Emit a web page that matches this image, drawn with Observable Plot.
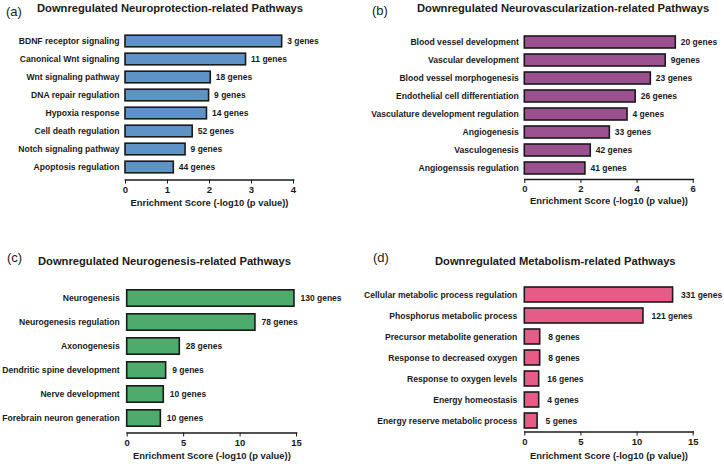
<!DOCTYPE html>
<html><head><meta charset="utf-8">
<script src="https://cdn.jsdelivr.net/npm/d3@7"></script>
<script src="https://cdn.jsdelivr.net/npm/@observablehq/plot@0.6"></script>
<style>
body{margin:0;background:#fff;}
#wrap{position:relative;width:724px;height:468px;overflow:hidden;background:#fff;font-family:"Liberation Sans",Arial,sans-serif;}
.panel{position:absolute;}
.title{position:absolute;font-weight:bold;font-size:11.2px;white-space:nowrap;color:#1a1a1a;transform:translateY(-50%);}
.letter{position:absolute;font-size:13px;color:#1a1a1a;transform:translateY(-50%);}
</style></head><body><div id="wrap"></div>
<script>
// Panel (a)
const aTitle = "Downregulated Neuroprotection-related Pathways";
const aPathways = ["BDNF receptor signaling","Canonical Wnt signaling","Wnt signaling pathway","DNA repair regulation","Hypoxia response","Cell death regulation","Notch signaling pathway","Apoptosis regulation"];
const aScores = [3.73, 2.87, 2.03, 1.99, 1.94, 1.60, 1.43, 1.15];
const aGenes = ["3 genes","11 genes","18 genes","9 genes","14 genes","52 genes","9 genes","44 genes"];
const aTicks = [0, 1, 2, 3, 4];

// Panel (b)
const bTitle = "Downregulated Neurovascularization-related Pathways";
const bPathways = ["Blood vessel development","Vascular development","Blood vessel morphogenesis","Endothelial cell differentiation","Vasculature development regulation","Angiogenesis","Vasculogenesis","Angiogenssis regulation"];
const bScores = [5.38, 5.02, 4.49, 3.95, 3.66, 3.03, 2.35, 2.16];
const bGenes = ["20 genes","9genes","23 genes","26 genes","4 genes","33 genes","42 genes","41 genes"];
const bTicks = [0, 2, 4, 6];

// Panel (c)
const cTitle = "Downregulated Neurogenesis-related Pathways";
const cPathways = ["Neurogenesis","Neurogenesis regulation","Axonogenesis","Dendritic spine development","Nerve development","Forebrain neuron generation"];
const cScores = [14.82, 11.36, 4.66, 3.45, 3.24, 2.98];
const cGenes = ["130 genes","78 genes","28 genes","9 genes","10 genes","10 genes"];
const cTicks = [0, 5, 10, 15];

// Panel (d)
const dTitle = "Downregulated Metabolism-related Pathways";
const dPathways = ["Cellular metabolic process regulation","Phosphorus metabolic process","Precursor metabolite generation","Response to decreased oxygen","Response to oxygen levels","Energy homeostasis","Energy reserve metabolic process"];
const dScores = [13.21, 10.57, 1.37, 1.37, 1.28, 1.28, 1.14];
const dGenes = ["331 genes","121 genes","8 genes","8 genes","16 genes","4 genes","5 genes"];
const dTicks = [0, 5, 10, 15];

const axisTitle = "Enrichment Score (-log10 (p value))";

const wrap = document.getElementById("wrap");

function panel(o) {
  const rows = o.cats.map((c, i) => ({cat: c, score: o.scores[i], genes: o.genes[i]}));
  const H = 234;
  const svg = Plot.plot({
    width: 362, height: H,
    marginLeft: o.ml, marginRight: o.mr, marginTop: 0, marginBottom: o.mb,
    style: {fontFamily: "'Liberation Sans', Arial, sans-serif", fontWeight: "bold", color: "#1a1a1a", background: "transparent"},
    x: {domain: [0, o.xMax], ticks: o.ticks},
    y: {domain: o.cats, range: o.yRange, padding: 0},
    marks: [
      Plot.barX(rows, {x: "score", y: "cat", fill: o.color, stroke: "#1a1a1a", strokeWidth: 1.6, insetTop: o.inset, insetBottom: o.inset}),
      Plot.text(rows, {x: "score", y: "cat", text: "genes", textAnchor: "start", dx: o.dx, fontSize: 8.5, fill: "#1a1a1a"}),
      Plot.axisY({tickSize: 0, tickPadding: o.pad, fontSize: 8.6, label: null}),
      Plot.axisX({ticks: o.ticks, tickSize: 4, tickPadding: 2, fontSize: 9.5, label: null, tickFormat: d => String(d)}),
      Plot.frame({anchor: "bottom", stroke: "#1a1a1a", strokeWidth: 1.6}),
      Plot.text([axisTitle], {frameAnchor: "bottom", dy: o.titleDy, fontSize: 9.4, fill: "#1a1a1a"})
    ]
  });
  svg.classList.add("panel");
  svg.style.left = o.left + "px";
  svg.style.top = o.top + "px";
  wrap.appendChild(svg);
  const t = document.createElement("div");
  t.className = "title"; t.textContent = o.title;
  t.style.left = o.tx + "px"; t.style.top = o.ty + "px";
  wrap.appendChild(t);
  const l = document.createElement("div");
  l.className = "letter"; l.textContent = o.letter;
  l.style.left = o.lx + "px"; l.style.top = o.ly + "px";
  wrap.appendChild(l);
}

panel({cats: aPathways, scores: aScores, genes: aGenes, ticks: aTicks, xMax: 4, color: "#5e93c8",
  ml: 125, mr: 69, mb: 54.5, yRange: [30.1, 176.9], inset: 3.2, dx: 5, pad: 6, titleDy: 26,
  left: 0, top: 0, title: aTitle, tx: 37, ty: 8, letter: "(a)", lx: 6, ly: 11});
panel({cats: bPathways, scores: bScores, genes: bGenes, ticks: bTicks, xMax: 6, color: "#9b5190",
  ml: 162.3, mr: 31.3, mb: 55, yRange: [30.8, 178.5], inset: 3, dx: 5, pad: 6, titleDy: 24,
  left: 362, top: 0, title: bTitle, tx: 417, ty: 8, letter: "(b)", lx: 372, ly: 10});
panel({cats: cPathways, scores: cScores, genes: cGenes, ticks: cTicks, xMax: 15, color: "#4cab6d",
  ml: 126.7, mr: 66, mb: 35.5, yRange: [50.4, 197.8], inset: 3.8, dx: 6, pad: 7.5, titleDy: 26,
  left: 0, top: 234, title: cTitle, tx: 38, ty: 261, letter: "(c)", lx: 7, ly: 257});
panel({cats: dPathways, scores: dScores, genes: dGenes, ticks: dTicks, xMax: 15, color: "#e65c87",
  ml: 162.3, mr: 31.3, mb: 36.5, yRange: [49.7, 197.6], inset: 3, dx: 8, pad: 7.5, titleDy: 27,
  left: 362, top: 234, title: dTitle, tx: 435, ty: 261, letter: "(d)", lx: 373, ly: 257});
</script>
</body></html>
